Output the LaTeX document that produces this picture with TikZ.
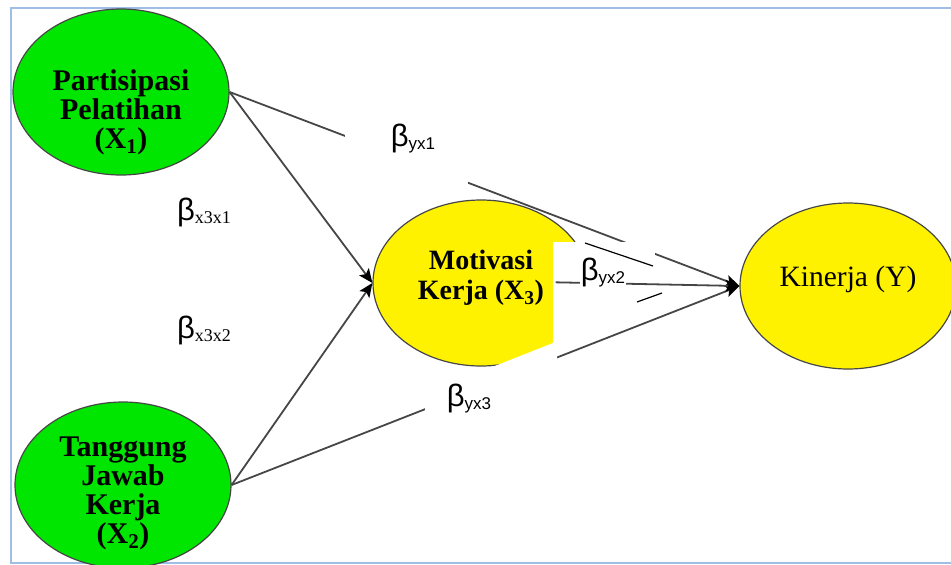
\documentclass[tikz,border=0pt]{standalone}
\usepackage{fontspec}
\setmainfont{Liberation Serif}
\newfontfamily\betafont{Liberation Sans}
\usetikzlibrary{shapes.geometric,arrows.meta}

\definecolor{nodegreen}{RGB}{0,230,0}
\definecolor{frameblue}{RGB}{160,190,228}
\definecolor{linegray}{RGB}{70,70,70}

\newcommand{\coef}[1]{{\betafont\fontsize{31}{31}\selectfont β\raisebox{-3pt}{\fontsize{17}{17}\selectfont #1}}}
\newcommand{\coefx}[1]{{\betafont\fontsize{31}{31}\selectfont β}\raisebox{-3pt}{\fontsize{18}{18}\selectfont #1}}

\begin{document}
\begin{tikzpicture}[x=1pt,y=-1pt,>={Stealth[length=14pt,width=12pt,inset=3pt,color=black]},
    var/.style={ellipse,draw=linegray,line width=1.2pt,minimum width=216pt,minimum height=166pt,inner sep=0pt},
    exo/.style={var,fill=nodegreen},
    endo/.style={var,fill=yellow},
    txt/.style={align=center,font=\fontsize{30}{29}\selectfont\bfseries},
    link/.style={draw=linegray,line width=1.8pt,->},
    coeff/.style={fill=white,inner sep=1pt}]
    \useasboundingbox (0,0) rectangle (951,565);
    \draw[frameblue,line width=2.5pt] (11,8) rectangle (954,563);

    \node[exo,label={[txt,yshift=-20pt]center:{Partisipasi\\Pelatihan\\(X\textsubscript{1})}}] (x1) at (121,92) {};
    \node[exo,label={[txt,yshift=-8pt]center:{Tanggung\\Jawab\\Kerja\\(X\textsubscript{2})}}] (x2) at (123,485) {};
    \node[endo,label={[txt,font=\fontsize{28}{30}\selectfont\bfseries,yshift=5pt]center:{Motivasi\\Kerja (X\textsubscript{3})}}] (x3) at (481,283) {};
    \node[endo,label={[txt,font=\fontsize{29.5}{30}\selectfont,yshift=7pt]center:{Kinerja (Y)}}] (y) at (848,286) {};

    \path (x1.east) edge[link] (x3.west)
          (x1.east) edge[link] (y.west)
          (x2.east) edge[link] (x3.west)
          (x2.east) edge[link] (y.west);

    % white patches over the lines
    \fill[white] (345,115) rectangle (468,190);
    \fill[white] (553,242) rectangle (655,303);
    \fill[white] (425,432) -- (425,392) -- (500,364) -- (553,343) -- (553,303)
        -- (600,303) -- (600,330) -- (557,347) -- (557,380) -- cycle;

    \draw[link,shorten <=-34pt] (x3.east) -- (y.west);
    \draw[black,line width=1.2pt] (585,243) -- (653,266) (637,302) -- (662,293);

    \node[coeff] (byx1) at (413,139) {\coef{yx1}};
    \node (bx3x1) at (204,212) {\coefx{x3x1}};
    \node (bx3x2) at (204,330) {\coefx{x3x2}};
    \node (byx3) at (469,399) {\coef{yx3}};
    \node[coeff] (byx2) at (603,273) {\coef{yx2}};
\end{tikzpicture}
\end{document}
